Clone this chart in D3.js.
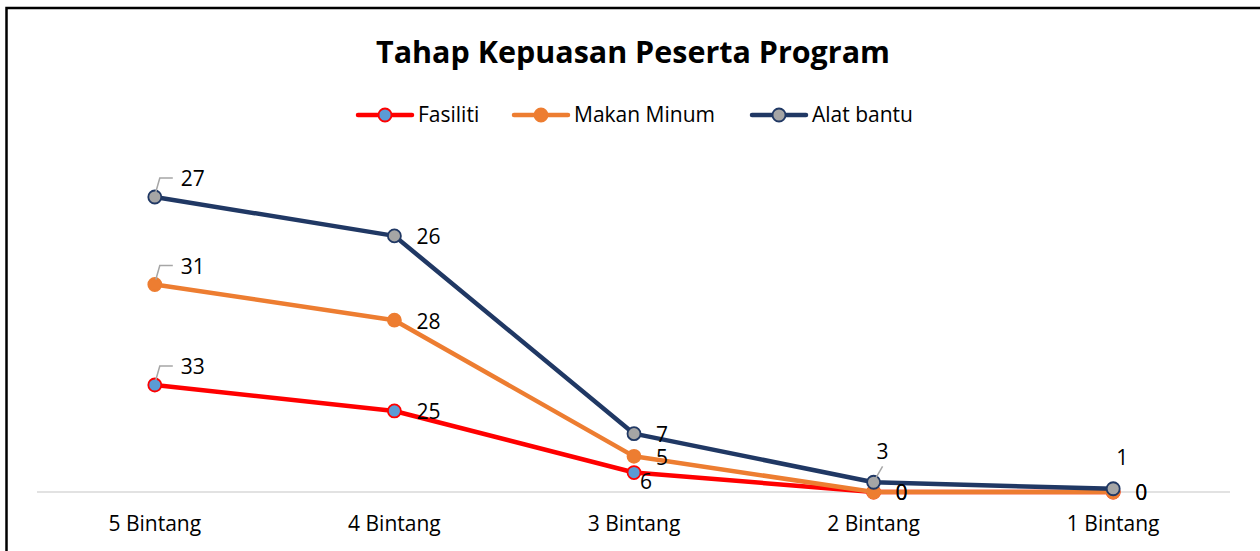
<!DOCTYPE html>
<html>
<head>
<meta charset="utf-8">
<script src="https://cdn.jsdelivr.net/npm/d3@7"></script>
<style>
  body { margin: 0; background: #fff; }
  text { font-family: "Open Sans", Lato, sans-serif; fill: #000; }
</style>
</head>
<body>
<div id="chart"></div>
<script>
// categories and series (stacked line chart)
const categories = ['5 Bintang', '4 Bintang', '3 Bintang', '2 Bintang', '1 Bintang'];
const fasiliti   = [33, 25, 6, 0, 0];
const makanMinum = [31, 28, 5, 0, 0];
const alatBantu  = [27, 26, 7, 3, 1];
const seriesNames = ['Fasiliti', 'Makan Minum', 'Alat bantu'];

// label placement per point: c = callout above, r = right, b = below right, a = above
const labelPlacement = [
  ['c', 'r', 'b', 'r', 'r'],
  ['c', 'r', 'r', 'r', 'r'],
  ['c', 'r', 'r', 'a', 'a']
];

const styles = [
  {line: '#ff0000', fill: '#5b9bd5', stroke: '#ff0000'},
  {line: '#ed7d31', fill: '#ed7d31', stroke: '#ed7d31'},
  {line: '#203864', fill: '#a5a5a5', stroke: '#203864'}
];

const width = 1260, height = 551;
const fs = 21;

const svg = d3.select('#chart').append('svg')
  .attr('width', width)
  .attr('height', height);

// frame
svg.append('path')
  .attr('d', 'M6.5,551 V8 H1260')
  .attr('fill', 'none')
  .attr('stroke', '#000')
  .attr('stroke-width', 2.5);

const x = d3.scaleBand()
  .domain(categories)
  .range([35, 1233]);

const y = d3.scaleLinear()
  .domain([0, 100])
  .range([492, 167.8]);

const table = categories.map((c, i) => ({
  cat: c,
  'Fasiliti': fasiliti[i],
  'Makan Minum': makanMinum[i],
  'Alat bantu': alatBantu[i]
}));

const stacked = d3.stack().keys(seriesNames)(table);

const cx = d => x(d.data.cat) + x.bandwidth() / 2;

// baseline
svg.append('line')
  .attr('x1', 37).attr('x2', 1230)
  .attr('y1', y(0)).attr('y2', y(0))
  .attr('stroke', '#d9d9d9')
  .attr('stroke-width', 1.5);

// category labels
svg.append('g').selectAll('text')
  .data(categories)
  .enter().append('text')
  .attr('x', d => x(d) + x.bandwidth() / 2)
  .attr('y', 531)
  .attr('text-anchor', 'middle')
  .attr('font-size', fs)
  .text(d => d);

const line = d3.line()
  .x(cx)
  .y(d => y(d[1]));

stacked.forEach((s, si) => {
  const st = styles[si];
  const g = svg.append('g');
  g.append('path')
    .datum(s)
    .attr('d', line)
    .attr('fill', 'none')
    .attr('stroke', st.line)
    .attr('stroke-width', 4.5)
    .attr('stroke-linejoin', 'round');

  g.selectAll('circle')
    .data(s)
    .enter().append('circle')
    .attr('cx', cx)
    .attr('cy', d => y(d[1]))
    .attr('r', 6.5)
    .attr('fill', st.fill)
    .attr('stroke', st.stroke)
    .attr('stroke-width', 1.8);
});

// data labels (drawn after lines)
stacked.forEach((s, si) => {
  const g = svg.append('g');
  s.forEach((d, i) => {
    const px = cx(d), py = y(d[1]);
    const val = d.data[seriesNames[si]];
    const pos = labelPlacement[si][i];
    let tx, ty, anchor = 'start';
    if (pos === 'c') {
      g.append('path')
        .attr('d', `M${px + 1},${py - 5} L${px + 5},${py - 19} H${px + 18}`)
        .attr('fill', 'none')
        .attr('stroke', '#a6a6a6')
        .attr('stroke-width', 1.5);
      tx = px + 26; ty = py - 18;
    } else if (pos === 'r') {
      tx = px + 22; ty = py + 1;
    } else if (pos === 'b') {
      tx = px + 6; ty = py + 9;
    } else {
      if (si === 2 && i === 3) {
        g.append('path')
          .attr('d', `M${px + 2},${py - 4} L${px + 9},${py - 16}`)
          .attr('stroke', '#a6a6a6')
          .attr('stroke-width', 1.5);
      }
      tx = px + 9; ty = py - 31; anchor = 'middle';
    }
    g.append('text')
      .attr('x', tx)
      .attr('y', ty)
      .attr('dy', '0.35em')
      .attr('text-anchor', anchor)
      .attr('font-size', fs)
      .text(val);
  });
});

// title
svg.append('text')
  .attr('x', 633)
  .attr('y', 63)
  .attr('text-anchor', 'middle')
  .attr('font-size', 30)
  .attr('font-weight', 'bold')
  .attr('textLength', 514)
  .attr('lengthAdjust', 'spacingAndGlyphs')
  .text('Tahap Kepuasan Peserta Program');

// legend
const legendX = [358, 514, 752];
const legend = svg.append('g');
seriesNames.forEach((n, i) => {
  const st = styles[i];
  const lg = legend.append('g').attr('transform', `translate(${legendX[i]},115)`);
  lg.append('line')
    .attr('x1', 0).attr('x2', 54)
    .attr('stroke', st.line)
    .attr('stroke-width', 4.5)
    .attr('stroke-linecap', 'round');
  lg.append('circle')
    .attr('cx', 27).attr('r', 6.5)
    .attr('fill', st.fill)
    .attr('stroke', st.stroke)
    .attr('stroke-width', 1.8);
  lg.append('text')
    .attr('x', 60)
    .attr('dy', '0.35em')
    .attr('font-size', fs)
    .text(n);
});
</script>
</body>
</html>
